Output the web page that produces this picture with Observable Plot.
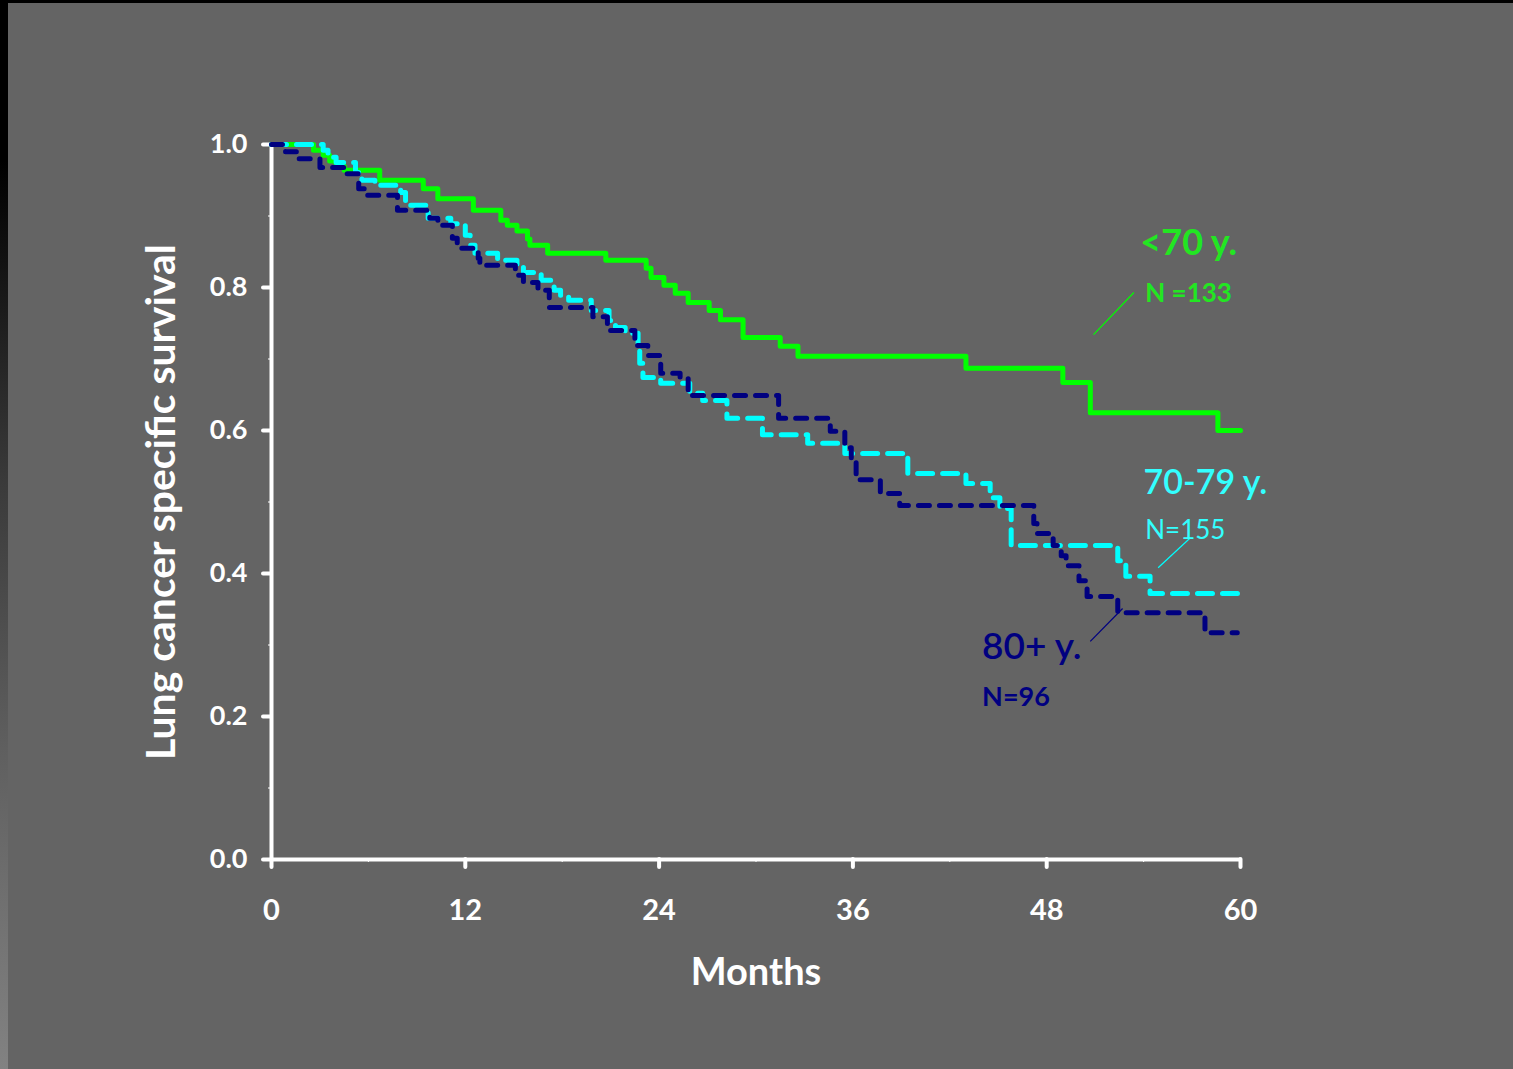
<!DOCTYPE html>
<html>
<head>
<meta charset="utf-8">
<script src="https://cdn.jsdelivr.net/npm/d3@7"></script>
<script src="https://cdn.jsdelivr.net/npm/@observablehq/plot@0.6"></script>
<style>
  html, body { margin: 0; padding: 0; background: #646464; }
  #wrap { position: relative; width: 1513px; height: 1069px; background: #646464; overflow: hidden; }
  #edgeL { position: absolute; left: 0; top: 0; width: 8px; height: 1069px; background: linear-gradient(to bottom, #000 0%, #000 15%, #3a3a3a 45%, #5f5f5f 70%, #828282 100%); }
  #edgeT { position: absolute; left: 0; top: 0; width: 1513px; height: 3px; background: #000; }
  svg { display: block; }
</style>
</head>
<body>
<div id="wrap"><div id="chart"></div><div id="edgeL"></div><div id="edgeT"></div></div>
<script>
// ---- data (months, survival) ----
const under70Months = [0, 2.6, 3.2, 3.6, 4.0, 4.5, 6.7, 9.4, 10.3, 12.5, 14.2, 14.6, 15.2, 15.85, 16.0, 17.1, 20.7, 23.2, 23.5, 24.3, 25.0, 25.8, 27.1, 27.8, 29.2, 31.5, 32.6, 43.0, 49.0, 50.7, 58.6, 60];
const under70Surv   = [1.0, 0.992, 0.985, 0.977, 0.970, 0.964, 0.950, 0.938, 0.924, 0.908, 0.894, 0.887, 0.879, 0.868, 0.859, 0.848, 0.838, 0.827, 0.814, 0.803, 0.792, 0.779, 0.768, 0.755, 0.730, 0.718, 0.704, 0.687, 0.667, 0.625, 0.600, 0.600];

const age7079Months = [0, 3.2, 3.5, 4.0, 5.2, 5.6, 6.4, 8.0, 8.3, 9.7, 11.1, 12.0, 12.3, 12.6, 14.0, 15.2, 15.6, 16.7, 17.5, 17.9, 18.4, 19.8, 20.9, 21.3, 21.9, 22.7, 22.8, 23.0, 24.1, 25.9, 26.7, 28.2, 30.4, 33.2, 35.5, 39.4, 43.0, 44.5, 45.1, 45.8, 52.4, 52.9, 54.4, 60];
const age7079Surv   = [1.0, 0.992, 0.982, 0.975, 0.961, 0.950, 0.943, 0.933, 0.915, 0.897, 0.889, 0.873, 0.859, 0.848, 0.838, 0.831, 0.821, 0.810, 0.796, 0.789, 0.782, 0.768, 0.754, 0.744, 0.736, 0.712, 0.694, 0.674, 0.666, 0.652, 0.642, 0.617, 0.594, 0.582, 0.568, 0.540, 0.526, 0.506, 0.491, 0.439, 0.418, 0.396, 0.372, 0.372];

const age80Months = [0, 0.87, 1.6, 3.0, 4.6, 5.4, 5.8, 7.8, 9.8, 10.3, 11.2, 11.5, 12.8, 12.9, 15.1, 15.6, 16.5, 17.2, 19.9, 20.8, 22.5, 23.3, 24.1, 25.3, 25.8, 31.4, 34.6, 35.5, 35.9, 36.2, 37.7, 38.9, 47.2, 47.4, 48.4, 48.9, 49.2, 50.0, 50.5, 52.4, 57.8, 59.8];
const age80Surv   = [1.0, 0.990, 0.980, 0.968, 0.959, 0.938, 0.929, 0.908, 0.897, 0.887, 0.869, 0.855, 0.841, 0.831, 0.817, 0.807, 0.796, 0.772, 0.759, 0.740, 0.719, 0.705, 0.680, 0.673, 0.649, 0.617, 0.599, 0.576, 0.555, 0.531, 0.512, 0.495, 0.470, 0.456, 0.439, 0.425, 0.411, 0.390, 0.368, 0.345, 0.317, 0.317];

const xTicks = [0, 12, 24, 36, 48, 60];
const xMinorTicks = [6, 18, 30, 42, 54];
const yTicks = [0, 0.2, 0.4, 0.6, 0.8, 1.0];
const yMinorTicks = [0.1, 0.3, 0.5, 0.7, 0.9];

const labelTexts   = ["<70 y.", "N =133", "70-79 y.", "N=155", "80+ y.", "N=96"];
const labelMonths  = [53.8, 54.1, 54.0, 54.1, 44.0, 44.0];
const labelSurv    = [0.862, 0.792, 0.527, 0.460, 0.297, 0.227];

const leaderGroup  = ["g", "c", "n"];
const leaderX1 = [50.9, 54.9, 50.7];
const leaderY1 = [0.734, 0.408, 0.305];
const leaderX2 = [53.4, 56.9, 52.7];
const leaderY2 = [0.793, 0.450, 0.351];

// ---- build tables ----
const toRows = (ms, ss) => ms.map((m, i) => ({month: m, surv: ss[i]}));
const green = toRows(under70Months, under70Surv);
const cyan = toRows(age7079Months, age7079Surv);
const navy = toRows(age80Months, age80Surv);

const colors = {g: "#00ff00", c: "#00ffff", n: "#000080"};
const textColors = {g: "#22e622", c: "#33ffff", n: "#000080"};
const labels = labelTexts.map((t, i) => ({text: t, month: labelMonths[i], surv: labelSurv[i]}));
const leaders = leaderGroup.map((g, i) => ({g, x1: leaderX1[i], y1: leaderY1[i], x2: leaderX2[i], y2: leaderY2[i]}));

const font = "Lato, 'Open Sans', sans-serif";
const lab = (i, size, weight, fill) => Plot.text([labels[i]], {x: "month", y: "surv", text: "text", fill, textAnchor: "start", fontSize: size, fontWeight: weight});

const chart = Plot.plot({
  width: 1513,
  height: 1069,
  marginLeft: 271,
  marginRight: 273,
  marginTop: 144,
  marginBottom: 210,
  style: {background: "#646464", color: "white", fontFamily: font, overflow: "visible"},
  x: {domain: [0, 60]},
  y: {domain: [0, 1]},
  marks: [
    // minor ticks
    Plot.axisX({ticks: xMinorTicks, tickSize: 3, tickFormat: () => "", stroke: "white", strokeWidth: 1}),
    Plot.axisY({ticks: yMinorTicks, tickSize: 3, tickFormat: () => "", stroke: "white", strokeWidth: 1}),
    // major ticks
    Plot.axisX({ticks: xTicks, tickSize: 8, tickPadding: 32, tickFormat: d3.format("d"), stroke: "white", strokeWidth: 4, strokeLinecap: "round", fill: "white", fontSize: 29, fontWeight: 700, label: null}),
    Plot.axisY({ticks: yTicks, tickSize: 8, tickPadding: 16, tickFormat: d3.format(".1f"), stroke: "white", strokeWidth: 4, strokeLinecap: "round", fill: "white", fontSize: 27, fontWeight: 700, label: null}),
    Plot.ruleX([0], {y1: 0, y2: 1, stroke: "white", strokeWidth: 4}),
    Plot.ruleY([0], {x1: 0, x2: 60, stroke: "white", strokeWidth: 4}),
    // curves
    Plot.line(green, {x: "month", y: "surv", curve: "step-after", stroke: colors.g, strokeWidth: 5}),
    Plot.line(cyan, {x: "month", y: "surv", curve: "step-after", stroke: colors.c, strokeWidth: 5, strokeDasharray: "15,10", strokeLinecap: "round"}),
    Plot.line(navy, {x: "month", y: "surv", curve: "step-after", stroke: colors.n, strokeWidth: 5, strokeDasharray: "11,10", strokeLinecap: "round"}),
    // leaders
    Plot.link(leaders, {x1: "x1", y1: "y1", x2: "x2", y2: "y2", stroke: d => colors[d.g], strokeWidth: 1.2}),
    // annotation labels
    lab(0, 36, 700, textColors.g),
    lab(1, 26, 700, textColors.g),
    lab(2, 34, 600, textColors.c),
    lab(3, 26, 400, textColors.c),
    lab(4, 37, 600, textColors.n),
    lab(5, 27, 700, textColors.n),
    // axis titles
    Plot.text(["Months"], {frameAnchor: "bottom", dy: 125, text: d => d, fill: "white", fontSize: 38, fontWeight: 700}),
    Plot.text(["Lung cancer specific survival"], {frameAnchor: "left", dx: -110, rotate: -90, textAnchor: "middle", text: d => d, fill: "white", fontSize: 41, fontWeight: 700})
  ]
});
document.getElementById("chart").appendChild(chart);
</script>
</body>
</html>
